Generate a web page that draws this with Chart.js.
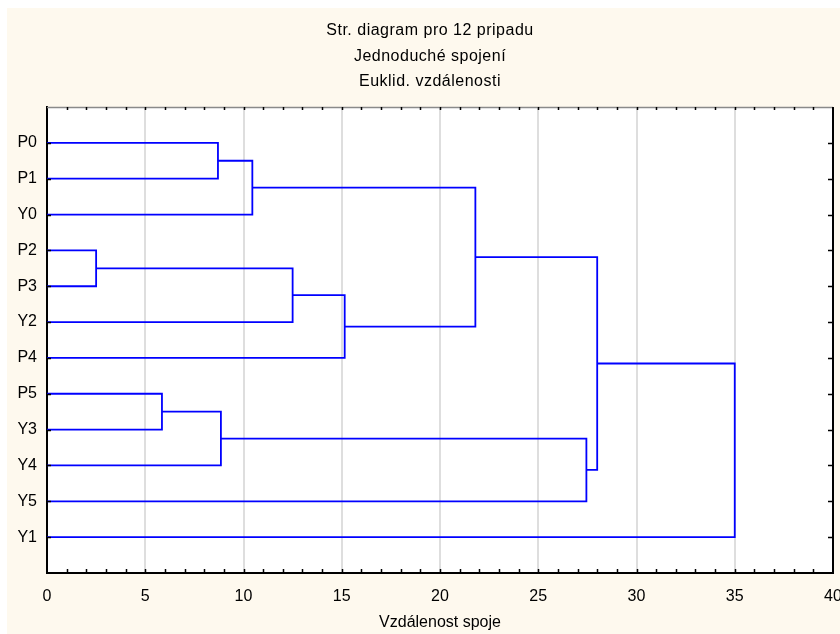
<!DOCTYPE html>
<html>
<head>
<meta charset="utf-8">
<script src="https://cdn.jsdelivr.net/npm/chart.js@4/dist/chart.umd.min.js"></script>
<style>
  html, body { margin: 0; padding: 0; background: #fff; }
  #wrap { width: 840px; height: 634px; }
</style>
</head>
<body>
<div id="wrap"><canvas id="dendro" width="840" height="634"></canvas></div>
<script>
// listy (poradi na ose Y)
const leaves = ['P0', 'P1', 'Y0', 'P2', 'P3', 'Y2', 'P4', 'P5', 'Y3', 'Y4', 'Y5', 'Y1'];

// spojeni: shluk 12+i vznika z mergeLeft[i] a mergeRight[i] ve vzdalenosti mergeDist[i]
const mergeLeft  = [0,  12, 3,   14,   15,    13,   7,    18,   19,    17,   21];
const mergeRight = [1,  2,  4,   5,    6,     16,   8,    9,    10,    20,   11];
const mergeDist  = [8.7, 10.45, 2.5, 12.5, 15.15, 21.8, 5.85, 8.85, 27.45, 28.0, 35.0];

const xTicks = [0, 5, 10, 15, 20, 25, 30, 35, 40];
const titleLines = ['Str. diagram pro 12 pripadu', 'Jednoduché spojení', 'Euklid. vzdálenosti'];
const xTitle = 'Vzdálenost spoje';

const BLUE = '#0000ff';
const FONT = '"Liberation Sans", Arial, sans-serif';

// poloha kazdeho shluku: vyska (x) a stred (y)
const nodeX = leaves.map(() => 0);
const nodeY = leaves.map((_, i) => i + 1);
const datasets = [];
mergeDist.forEach((d, i) => {
  const a = mergeLeft[i], b = mergeRight[i];
  datasets.push({
    data: [
      { x: nodeX[a], y: nodeY[a] },
      { x: d, y: nodeY[a] },
      { x: d, y: nodeY[b] },
      { x: nodeX[b], y: nodeY[b] }
    ],
    showLine: true,
    borderColor: BLUE,
    borderWidth: 1.8,
    pointRadius: 0,
    borderJoinStyle: 'miter',
    fill: false
  });
  nodeX.push(d);
  nodeY.push((nodeY[a] + nodeY[b]) / 2);
});

const framePlugin = {
  id: 'frame',
  beforeDraw(chart) {
    const { ctx, chartArea: ca } = chart;
    ctx.save();
    ctx.fillStyle = '#fef9ee';
    ctx.fillRect(7, 8, 840 - 7, 634 - 8);
    ctx.fillStyle = '#ffffff';
    ctx.fillRect(ca.left, ca.top, ca.right - ca.left, ca.bottom - ca.top);

    // titulek
    ctx.fillStyle = '#000';
    ctx.font = '16px ' + FONT;
    ctx.textAlign = 'center';
    ctx.textBaseline = 'middle';
    if ('letterSpacing' in ctx) ctx.letterSpacing = '0.5px';
    const ys = [30.5, 56.5, 82];
    titleLines.forEach((t, i) => ctx.fillText(t, 430, ys[i]));
    ctx.restore();
  },
  afterDraw(chart) {
    const { ctx, chartArea: ca, scales } = chart;
    ctx.save();
    // horni okraj
    ctx.strokeStyle = '#8a8a8a';
    ctx.lineWidth = 1.5;
    ctx.beginPath();
    ctx.moveTo(ca.left, ca.top + 0.5);
    ctx.lineTo(ca.right, ca.top + 0.5);
    ctx.stroke();
    // pravy okraj
    ctx.strokeStyle = '#000';
    ctx.lineWidth = 2;
    ctx.beginPath();
    ctx.moveTo(ca.right, ca.top);
    ctx.lineTo(ca.right, ca.bottom + 1);
    ctx.stroke();

    // drobne znacky
    ctx.lineWidth = 1.5;
    ctx.beginPath();
    for (let v = 1; v < 40; v++) {
      const px = Math.round(scales.x.getPixelForValue(v)) + 0.5;
      ctx.moveTo(px, ca.bottom);
      ctx.lineTo(px, ca.bottom - 4);
      ctx.moveTo(px, ca.top);
      ctx.lineTo(px, ca.top + 3);
    }
    for (let r = 1; r <= leaves.length; r++) {
      const py = Math.round(scales.y.getPixelForValue(r)) + 0.5;
      ctx.moveTo(ca.right, py);
      ctx.lineTo(ca.right - 5, py);
      ctx.moveTo(ca.left, py);
      ctx.lineTo(ca.left + 4, py);
    }
    ctx.stroke();
    ctx.restore();
  }
};

new Chart(document.getElementById('dendro').getContext('2d'), {
  type: 'scatter',
  data: { datasets },
  options: {
    responsive: false,
    animation: false,
    layout: { padding: { top: 107, right: 7, left: 0, bottom: 0 } },
    plugins: {
      legend: { display: false },
      tooltip: { enabled: false },
      title: { display: false }
    },
    scales: {
      x: {
        type: 'linear',
        min: 0,
        max: 40,
        afterBuildTicks: s => { s.ticks = xTicks.map(v => ({ value: v })); },
        afterFit: s => { s.height = 61; s.paddingLeft = 0; s.paddingRight = 0; },
        ticks: {
          color: '#000',
          font: { family: FONT, size: 16 },
          padding: 14,
          maxRotation: 0
        },
        grid: {
          drawTicks: false,
          lineWidth: 2,
          color: c => (c.tick && (c.tick.value === 0 || c.tick.value === 40)) ? 'rgba(0,0,0,0)' : '#dedede'
        },
        border: { color: '#000', width: 2 },
        title: {
          display: true,
          text: xTitle,
          color: '#000',
          font: { family: FONT, size: 16 },
          padding: { top: 0, bottom: 2 }
        }
      },
      y: {
        type: 'linear',
        min: 0,
        max: 13,
        reverse: true,
        afterBuildTicks: s => { s.ticks = leaves.map((_, i) => ({ value: i + 1 })); },
        afterFit: s => { s.width = 47; s.paddingTop = 0; s.paddingBottom = 0; },
        ticks: {
          color: '#000',
          font: { family: FONT, size: 16 },
          padding: 10,
          autoSkip: false,
          callback: v => leaves[v - 1] || ''
        },
        grid: { drawTicks: false, color: 'rgba(0,0,0,0)' },
        border: { color: '#000', width: 2 }
      }
    }
  },
  plugins: [framePlugin]
});
</script>
</body>
</html>
